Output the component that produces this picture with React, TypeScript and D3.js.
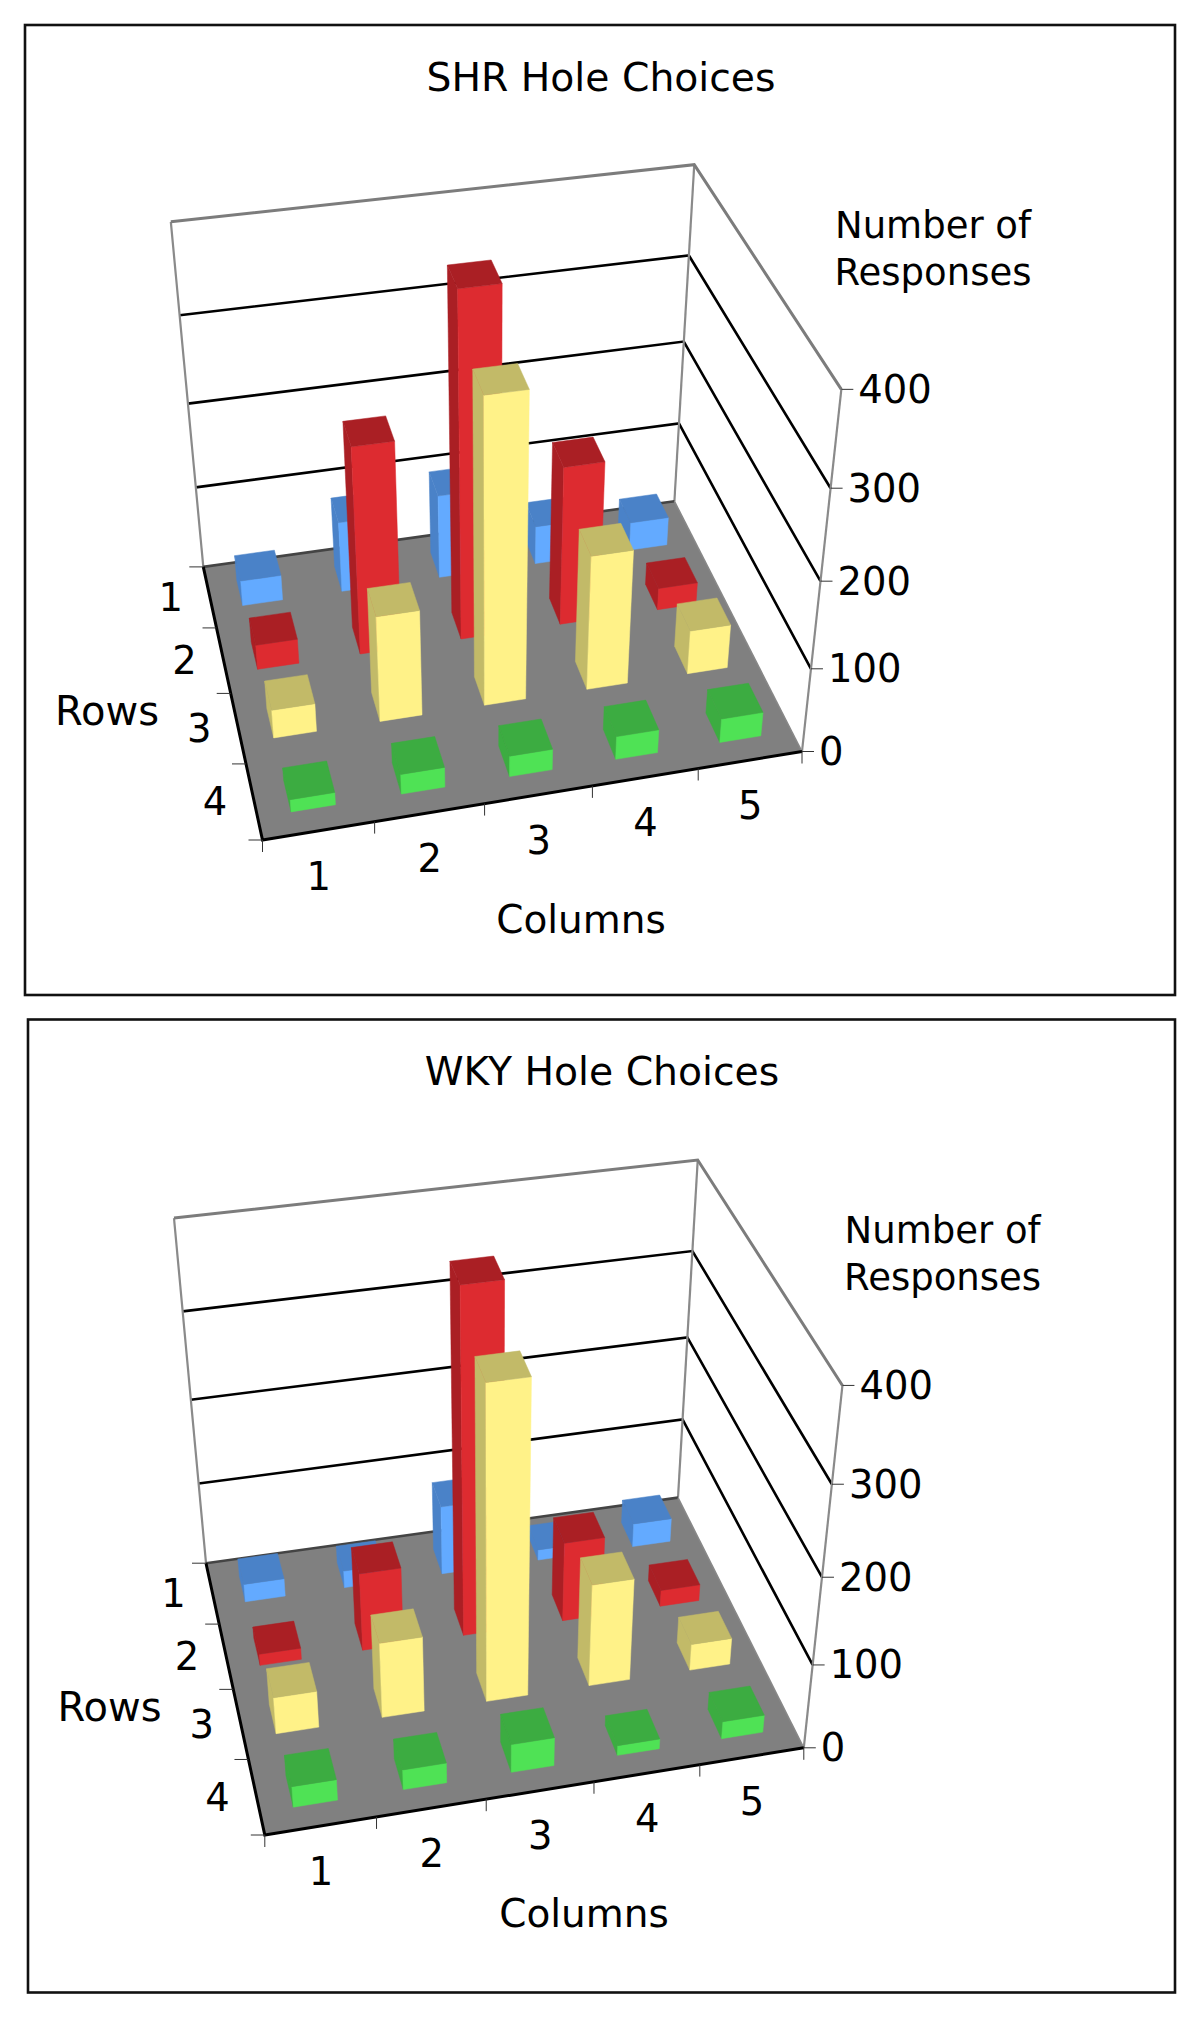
import React from "react";
import * as d3 from "d3";

const columns = ["1", "2", "3", "4", "5"];
const rows = ["1", "2", "3", "4"];
const valueTicks = [0, 100, 200, 300, 400];

// one list per row, left to right
const shrRow1 = [31, 86, 102, 47, 35];
const shrRow2 = [30, 245, 398, 190, 27];
const shrRow3 = [34, 126, 351, 160, 53];
const shrRow4 = [15, 24, 25, 28, 29];

const wkyRow1 = [22, 21, 84, 13, 29];
const wkyRow2 = [14, 94, 398, 96, 20];
const wkyRow3 = [44, 90, 360, 122, 32];
const wkyRow4 = [25, 24, 34, 12, 21];

const frontColors = ["#63aaff", "#dd2b30", "#fff288", "#4fe255"];
const sideColors = ["#4a82c8", "#aa1f24", "#c2ba68", "#3cac41"];

type Pt = [number, number];

const FONT = "'DejaVu Sans', Verdana, sans-serif";

// corners are screen positions of the box: back-left, back-right, front-right, front-left
function makeProjection(floor: Pt[], tops: Pt[]) {
  const [p0, p1, p2, p3] = floor;
  const dx1 = p1[0] - p2[0];
  const dx2 = p3[0] - p2[0];
  const sx = p0[0] - p1[0] + p2[0] - p3[0];
  const dy1 = p1[1] - p2[1];
  const dy2 = p3[1] - p2[1];
  const sy = p0[1] - p1[1] + p2[1] - p3[1];
  const den = dx1 * dy2 - dx2 * dy1;
  const g = (sx * dy2 - dx2 * sy) / den;
  const h = (dx1 * sy - sx * dy1) / den;
  const a = p1[0] - p0[0] + g * p1[0];
  const b = p3[0] - p0[0] + h * p3[0];
  const d = p1[1] - p0[1] + g * p1[1];
  const e = p3[1] - p0[1] + h * p3[1];
  const base = (s: number, t: number) => [
    a * s + b * t + p0[0],
    d * s + e * t + p0[1],
    g * s + h * t + 1,
  ];

  // vertical direction: least squares on the three visible top corners
  const st: Pt[] = [[0, 0], [1, 0], [1, 1]];
  const eqs: number[][] = [];
  tops.forEach((q, i) => {
    const [X, Y, W] = base(st[i][0], st[i][1]);
    eqs.push([1, 0, -q[0], q[0] * W - X]);
    eqs.push([0, 1, -q[1], q[1] * W - Y]);
  });
  const m = [0, 1, 2].map((r) =>
    [0, 1, 2, 3].map((c) => d3.sum(eqs, (q) => q[r] * q[c]))
  );
  for (let i = 0; i < 3; i++) {
    for (let r = 0; r < 3; r++) {
      if (r === i) continue;
      const f = m[r][i] / m[i][i];
      for (let c = i; c < 4; c++) m[r][c] -= f * m[i][c];
    }
  }
  const A = m[0][3] / m[0][0];
  const B = m[1][3] / m[1][1];
  const C = m[2][3] / m[2][2];

  return (s: number, t: number, w: number): Pt => {
    const [X, Y, W] = base(s, t);
    const k = W + w * C;
    return [(X + w * A) / k, (Y + w * B) / k];
  };
}

const colScale = d3.scaleBand<string>().domain(columns).range([0, 1]).paddingInner(0.6).paddingOuter(0.3);
const rowScale = d3.scaleBand<string>().domain(rows).range([0, 1]).paddingInner(0.58).paddingOuter(0.29);
const colEdge = d3.scaleLinear().domain([0, columns.length]).range([0, 1]);
const rowEdge = d3.scaleLinear().domain([0, rows.length]).range([0, 1]);
const valueScale = d3.scaleLinear().domain([0, 400]).range([0, 1]);
const poly = d3.line<Pt>().curve(d3.curveLinearClosed);
const open = d3.line<Pt>();

function Panel({ cfg }: { cfg: any }) {
  const P = makeProjection(cfg.floor, cfg.tops);
  const txt = { fontFamily: FONT, fill: "#000" };
  return (
    <g>
      <rect x={cfg.frame[0]} y={cfg.frame[1]} width={cfg.frame[2]} height={cfg.frame[3]} fill="#fff" stroke="#111" strokeWidth={2.6} />
      <text x={cfg.titleX} y={cfg.titleY} fontSize={39.3} textAnchor="middle" {...txt}>{cfg.title}</text>

      {/* floor */}
      <path d={poly([P(0, 0, 0), P(1, 0, 0), P(1, 1, 0), P(0, 1, 0)])!} fill="#808080" />

      {/* walls */}
      {valueTicks.slice(1, -1).map((v) => (
        <path key={v} fill="none" stroke="#000" strokeWidth={2.6}
          d={open([P(0, 0, valueScale(v)), P(1, 0, valueScale(v)), P(1, 1, valueScale(v))])!} />
      ))}
      <path fill="none" stroke="#8a8a8a" strokeWidth={2.2}
        d={open([P(0, 0, 0), P(0, 0, 1)])!} />
      <path fill="none" stroke="#8a8a8a" strokeWidth={2.2}
        d={open([P(1, 0, 0), P(1, 0, 1)])!} />
      <path fill="none" stroke="#8a8a8a" strokeWidth={2.2}
        d={open([P(1, 1, 0), P(1, 1, 1)])!} />
      <path fill="none" stroke="#7c7c7c" strokeWidth={3}
        d={open([P(0, 0, 1), P(1, 0, 1), P(1, 1, 1)])!} />
      <path fill="none" stroke="#444" strokeWidth={2.6}
        d={open([P(0, 0, 0), P(1, 0, 0)])!} />
      <path fill="none" stroke="#888" strokeWidth={1.5}
        d={open([P(1, 0, 0), P(1, 1, 0)])!} />
      <path fill="none" stroke="#000" strokeWidth={3}
        d={open([P(0, 0, 0), P(0, 1, 0), P(1, 1, 0)])!} />

      {/* ticks */}
      {valueTicks.map((v) => {
        const q = P(1, 1, valueScale(v));
        return (
          <g key={v}>
            <line x1={q[0]} y1={q[1]} x2={q[0] + 12} y2={q[1]} stroke="#333" strokeWidth={1} />
            <text x={q[0] + 17} y={q[1] + 13.5} fontSize={38.5} {...txt}>{v}</text>
          </g>
        );
      })}
      {d3.range(rows.length + 1).map((i) => {
        const q = P(0, rowEdge(i), 0);
        return <line key={i} x1={q[0]} y1={q[1]} x2={q[0] - 14} y2={q[1]} stroke="#333" strokeWidth={1} />;
      })}
      {d3.range(columns.length + 1).map((i) => {
        const q = P(colEdge(i), 1, 0);
        return <line key={i} x1={q[0]} y1={q[1]} x2={q[0]} y2={q[1] + 12} stroke="#333" strokeWidth={1} />;
      })}
      {rows.map((r, i) => {
        const q = P(0, rowEdge(i + 0.5), 0);
        return <text key={r} x={q[0] - 39} y={q[1] + 14} fontSize={38.5} textAnchor="middle" {...txt}>{r}</text>;
      })}
      {columns.map((c, i) => {
        const q = P(colEdge(i + 0.5), 1, 0);
        return <text key={c} x={q[0]} y={q[1] + 59} fontSize={38.5} textAnchor="middle" {...txt}>{c}</text>;
      })}

      {/* bars, back row first */}
      {cfg.values.map((rowVals: number[], ri: number) =>
        rowVals.map((v, ci) => {
          const s0 = colScale(columns[ci])!;
          const s1 = s0 + colScale.bandwidth();
          const t0 = rowScale(rows[ri])!;
          const t1 = t0 + rowScale.bandwidth();
          const w = valueScale(v);
          const front = frontColors[ri];
          const side = sideColors[ri];
          return (
            <g key={`${ri}-${ci}`} strokeWidth={0.5} strokeLinejoin="round">
              <path fill={side} stroke={side} d={poly([P(s0, t0, 0), P(s0, t1, 0), P(s0, t1, w), P(s0, t0, w)])!} />
              <path fill={front} stroke={front} d={poly([P(s0, t1, 0), P(s1, t1, 0), P(s1, t1, w), P(s0, t1, w)])!} />
              <path fill={side} stroke={side} d={poly([P(s0, t0, w), P(s1, t0, w), P(s1, t1, w), P(s0, t1, w)])!} />
            </g>
          );
        })
      )}

      <text x={cfg.unitX} y={cfg.unitY} fontSize={37} textAnchor="middle" {...txt}>Number of</text>
      <text x={cfg.unitX} y={cfg.unitY + 47} fontSize={37} textAnchor="middle" {...txt}>Responses</text>
      <text x={cfg.rowsX} y={cfg.rowsY} fontSize={40} textAnchor="middle" {...txt}>Rows</text>
      <text x={cfg.colsX} y={cfg.colsY} fontSize={39} textAnchor="middle" {...txt}>Columns</text>
    </g>
  );
}

const shrPanel = {
  title: "SHR Hole Choices",
  values: [shrRow1, shrRow2, shrRow3, shrRow4],
  frame: [25, 25, 1150, 970],
  titleX: 601, titleY: 91,
  floor: [[203.3, 566.9], [674.4, 501.2], [802, 751.5], [262.5, 840]] as Pt[],
  tops: [[170.7, 222.5], [695.5, 163.8], [840, 389.7]] as Pt[],
  unitX: 933, unitY: 237.5,
  rowsX: 107, rowsY: 725,
  colsX: 581, colsY: 933,
};

const wkyPanel = {
  title: "WKY Hole Choices",
  values: [wkyRow1, wkyRow2, wkyRow3, wkyRow4],
  frame: [28, 1019.5, 1147, 973],
  titleX: 602, titleY: 1085,
  floor: [[206, 1563.2], [678, 1497.6], [803.8, 1747.8], [264.8, 1835]] as Pt[],
  tops: [[174.3, 1218], [697.8, 1159.2], [842, 1386.5]] as Pt[],
  unitX: 942.6, unitY: 1243,
  rowsX: 109.5, rowsY: 1720.5,
  colsX: 584, colsY: 1927,
};

export default function App() {
  return (
    <svg width={1200} height={2017} style={{ position: "absolute", left: 0, top: 0, display: "block" }}>
      <rect width={1200} height={2017} fill="#fff" />
      <Panel cfg={shrPanel} />
      <Panel cfg={wkyPanel} />
    </svg>
  );
}
